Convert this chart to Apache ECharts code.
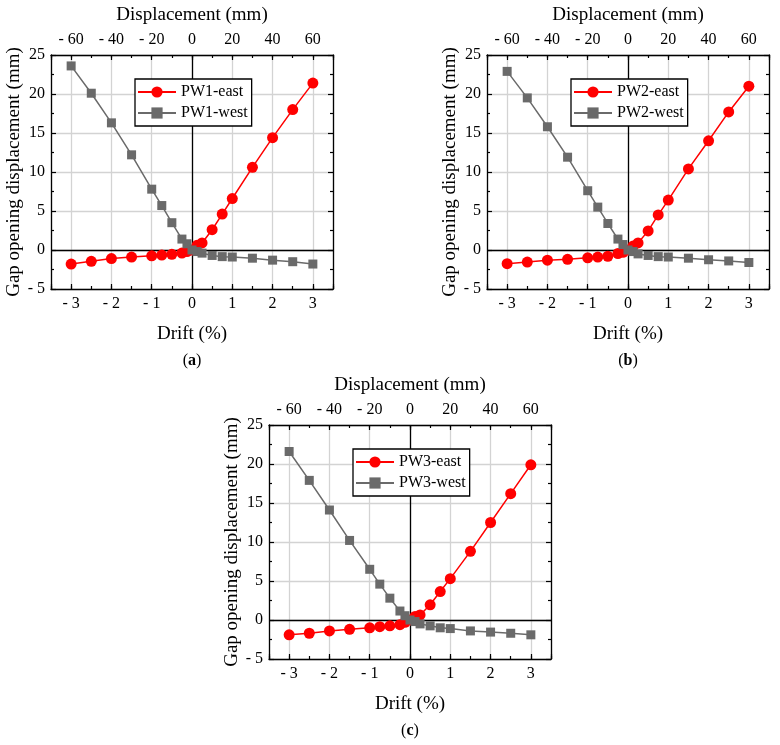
<!DOCTYPE html>
<html>
<head>
<meta charset="utf-8">
<script src="https://cdn.jsdelivr.net/npm/echarts@6/dist/echarts.min.js"></script>
<style>html,body{margin:0;padding:0;background:#fff;}#c{width:780px;height:745px;}</style>
</head>
<body>
<div id="c"></div>
<script>
// ---- data ----
const drift = [-3, -2.5, -2, -1.5, -1, -0.75, -0.5, -0.25, -0.125, 0, 0.125, 0.25, 0.5, 0.75, 1, 1.5, 2, 2.5, 3];
const pw1East = [-1.8, -1.45, -1.1, -0.9, -0.75, -0.65, -0.55, -0.4, -0.2, 0, 0.6, 0.9, 2.6, 4.6, 6.6, 10.6, 14.4, 18.0, 21.4];
const pw1West = [23.6, 20.1, 16.3, 12.2, 7.8, 5.7, 3.5, 1.4, 0.8, 0, -0.2, -0.4, -0.7, -0.85, -0.9, -1.05, -1.3, -1.5, -1.8];
const pw2East = [-1.75, -1.55, -1.3, -1.2, -1.0, -0.9, -0.8, -0.45, -0.3, 0, 0.5, 0.9, 2.45, 4.5, 6.4, 10.4, 14.0, 17.7, 21.0];
const pw2West = [22.9, 19.5, 15.8, 11.9, 7.6, 5.5, 3.4, 1.4, 0.7, 0, -0.2, -0.5, -0.7, -0.85, -0.9, -1.05, -1.25, -1.4, -1.6];
const pw3East = [-1.9, -1.7, -1.4, -1.2, -1.0, -0.85, -0.75, -0.6, -0.3, 0, 0.45, 0.65, 1.95, 3.65, 5.3, 8.8, 12.5, 16.2, 19.9];
const pw3West = [21.6, 17.9, 14.1, 10.2, 6.5, 4.6, 2.8, 1.15, 0.55, 0, -0.2, -0.5, -0.75, -1.0, -1.1, -1.4, -1.55, -1.7, -1.9];
const panelNames = ['PW1', 'PW2', 'PW3'];
const panelTags = ['a', 'b', 'c'];
const xTitle = 'Drift (%)';
const topTitle = 'Displacement (mm)';
const yTitle = 'Gap opening displacement (mm)';

const panels = [
  { east: pw1East, west: pw1West },
  { east: pw2East, west: pw2West },
  { east: pw3East, west: pw3West }
];

// ---- layout ----
const grids = [
  { left: 51, top: 55, width: 282, height: 234 },
  { left: 487, top: 55, width: 282, height: 234 },
  { left: 269, top: 425, width: 282, height: 234 }
];
const FONT = 'Liberation Serif';
const AX = '#000';
const GRIDC = '#d3d3d3';
const GRAY = '#6a6a6a';
const fmtNum = v => (v < 0 ? '- ' + Math.abs(v) : String(v));

const xAxis = [], yAxis = [], series = [], legend = [], graphic = [];

grids.forEach((g, i) => {
  // bottom major
  xAxis.push({
    gridIndex: i, type: 'value', position: 'bottom', min: -3.5, max: 3.5, minInterval: 1, maxInterval: 1,
    axisLine: { onZero: false, lineStyle: { color: AX, width: 1.3 } },
    axisTick: { inside: true, length: 5, lineStyle: { color: AX, width: 1.2 } },
    axisLabel: { margin: 7, color: '#000', fontFamily: FONT, fontSize: 16,
      formatter: v => (Math.abs(v - Math.round(v)) > 1e-9 ? '' : fmtNum(v)) },
    splitLine: { show: true, lineStyle: { color: GRIDC, width: 1.3 } },
    name: xTitle, nameLocation: 'middle', nameGap: 36,
    nameTextStyle: { color: '#000', fontFamily: FONT, fontSize: 19 }
  });
  // bottom minor
  xAxis.push({
    gridIndex: i, type: 'value', position: 'bottom', min: -3.5, max: 3.5, interval: 0.5,
    axisLine: { show: false, onZero: false },
    axisTick: { inside: true, length: 3, lineStyle: { color: AX, width: 1.2 } },
    axisLabel: { show: false }, splitLine: { show: false }
  });
  // top major
  xAxis.push({
    gridIndex: i, type: 'value', position: 'top', min: -70, max: 70, minInterval: 20, maxInterval: 20,
    axisLine: { onZero: false, lineStyle: { color: AX, width: 1.3 } },
    axisTick: { inside: true, length: 5, lineStyle: { color: AX, width: 1.2 } },
    axisLabel: { margin: 7, color: '#000', fontFamily: FONT, fontSize: 16,
      formatter: v => (Math.abs(v) % 20 !== 0 ? '' : fmtNum(v)) },
    splitLine: { show: false },
    name: topTitle, nameLocation: 'middle', nameGap: 30,
    nameTextStyle: { color: '#000', fontFamily: FONT, fontSize: 19 }
  });
  // top minor
  xAxis.push({
    gridIndex: i, type: 'value', position: 'top', min: -70, max: 70, interval: 10,
    axisLine: { show: false, onZero: false },
    axisTick: { inside: true, length: 3, lineStyle: { color: AX, width: 1.2 } },
    axisLabel: { show: false }, splitLine: { show: false }
  });
  // left
  yAxis.push({
    gridIndex: i, type: 'value', position: 'left', min: -5, max: 25, interval: 5,
    axisLine: { onZero: false, lineStyle: { color: AX, width: 1.3 } },
    axisTick: { inside: true, length: 5, lineStyle: { color: AX, width: 1.2 } },
    minorTick: { show: true, splitNumber: 2, length: 3, lineStyle: { color: AX, width: 1.2 } },
    axisLabel: { margin: 6, color: '#000', fontFamily: FONT, fontSize: 16, formatter: fmtNum },
    splitLine: { show: true, lineStyle: { color: GRIDC, width: 1.3 } },
    name: yTitle, nameLocation: 'middle', nameGap: 26,
    nameTextStyle: { color: '#000', fontFamily: FONT, fontSize: 19 }
  });
  // right
  yAxis.push({
    gridIndex: i, type: 'value', position: 'right', min: -5, max: 25, interval: 5,
    axisLine: { onZero: false, lineStyle: { color: AX, width: 1.3 } },
    axisTick: { inside: true, length: 5, lineStyle: { color: AX, width: 1.2 } },
    minorTick: { show: true, splitNumber: 2, length: 3, lineStyle: { color: AX, width: 1.2 } },
    axisLabel: { show: false }, splitLine: { show: false }
  });

  const p = panels[i];
  const eastName = panelNames[i] + '-east';
  const westName = panelNames[i] + '-west';
  series.push({
    name: eastName, type: 'line', xAxisIndex: 4 * i, yAxisIndex: 2 * i,
    data: drift.map((x, k) => [x, p.east[k]]),
    symbol: 'circle', symbolSize: 11, color: '#ff0000',
    lineStyle: { color: '#ff0000', width: 1.5 }, itemStyle: { color: '#ff0000' },
    z: 3,
    markLine: {
      silent: true, symbol: 'none', z: 1, label: { show: false },
      lineStyle: { color: '#000', type: 'solid', width: 1.3 },
      data: [{ xAxis: 0 }, { yAxis: 0 }]
    }
  });
  series.push({
    name: westName, type: 'line', xAxisIndex: 4 * i, yAxisIndex: 2 * i,
    data: drift.map((x, k) => [x, p.west[k]]),
    symbol: 'rect', symbolSize: 9, color: GRAY,
    lineStyle: { color: GRAY, width: 1.5 }, itemStyle: { color: GRAY },
    z: 4
  });
  legend.push({
    data: [eastName, westName], orient: 'vertical',
    left: g.left + 84, top: g.top + 24,
    itemWidth: 38, itemHeight: 14, itemGap: 5,
    padding: [5, 4, 5, 2],
    borderColor: '#000', borderWidth: 1.3, backgroundColor: '#fff',
    textStyle: { color: '#000', fontFamily: FONT, fontSize: 16, padding: [0, 0, 0, 0] },
    selectedMode: false
  });
  graphic.push({
    type: 'text', x: g.left + g.width / 2, y: g.top + g.height + 71.5,
    style: {
      text: '{n|(}{b|' + panelTags[i] + '}{n|)}', align: 'center', verticalAlign: 'middle',
      rich: {
        n: { fontFamily: FONT, fontSize: 16, fill: '#000' },
        b: { fontFamily: FONT, fontSize: 16, fontWeight: 'bold', fill: '#000' }
      }
    }
  });
});

const chart = echarts.init(document.getElementById('c'), null, { renderer: 'canvas' });
chart.setOption({
  animation: false,
  backgroundColor: '#fff',
  grid: grids.map(g => Object.assign({ containLabel: false, outerBoundsMode: 'none' }, g)),
  xAxis, yAxis, series, legend, graphic
});
</script>
</body>
</html>
